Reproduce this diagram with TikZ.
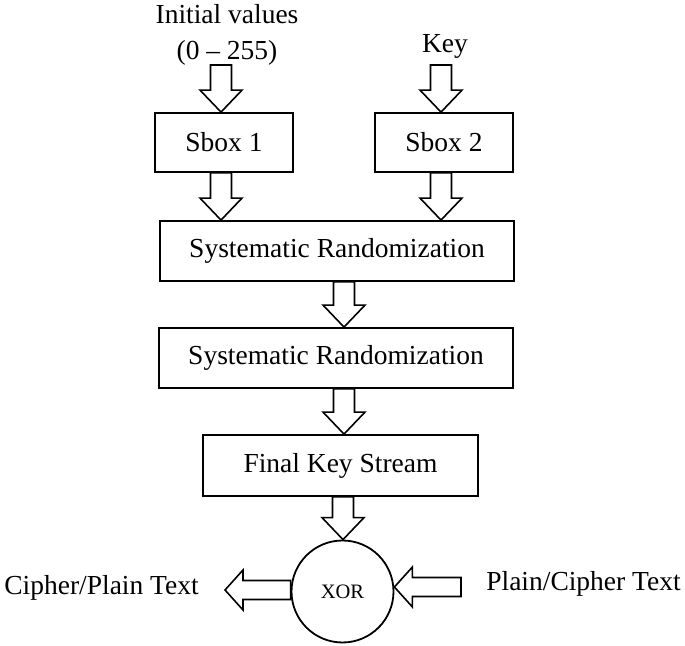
\documentclass[tikz,border=0pt]{standalone}
\usepackage{fontspec}
\setmainfont{Liberation Serif}
\usetikzlibrary{calc}
\tikzset{
  boxnode/.style={draw, line width=1.8pt, inner sep=0pt, fill=white},
  blk/.style={draw, line width=1.6pt, fill=white, line join=miter},
  lbl/.style={inner sep=0pt, font=\fontsize{27.5}{36}\selectfont},
}
\newcommand\blkdown[3]{%
  \draw[blk] let \p1=(#1), \p2=(#2) in
    (#3-10.5,\y1) -- (#3-10.5,\y2+22) -- (#3-21,\y2+22) -- (#3,\y2) --
    (#3+21,\y2+22) -- (#3+10.5,\y2+22) -- (#3+10.5,\y1) -- cycle;}
\newcommand\blkhoriz[4]{% #1 start, #2 tip, #3 y, #4 direction (+1 tip right of start? -1)
  \draw[blk] let \p1=(#1), \p2=(#2) in
    (\x1,#3-9.5) -- (\x2+#4*18,#3-9.5) -- (\x2+#4*18,#3-20) -- (\x2,#3) --
    (\x2+#4*18,#3+20) -- (\x2+#4*18,#3+9.5) -- (\x1,#3+9.5) -- cycle;}
\begin{document}
\begin{tikzpicture}[x=1pt,y=1pt]
\useasboundingbox (0,0) rectangle (685,645);
% labels
\node[lbl, align=center, anchor=north] (iv) at (227,641) {Initial values\\(0 -- 255)};
\node[lbl, anchor=base] (key) at (445,592) {Key};
% boxes
\node[boxnode, lbl, minimum width=138pt, minimum height=59pt] (s1) at (224,502.5) {Sbox 1};
\node[boxnode, lbl, minimum width=138pt, minimum height=59pt] (s2) at (444,502.5) {Sbox 2};
\node[boxnode, lbl, minimum width=354pt, minimum height=60pt] (sr1) at (337,394) {Systematic Randomization};
\node[boxnode, lbl, minimum width=354pt, minimum height=60pt] (sr2) at (336,287) {Systematic Randomization};
\node[boxnode, lbl, minimum width=275pt, minimum height=61pt] (fks) at (340.5,179.5) {Final Key Stream};
\node[draw, circle, line width=1.8pt, minimum size=102pt, inner sep=0pt,
      font=\fontsize{20.5}{24}\selectfont] (xor) at (342.5,53.5) {XOR};
\node[lbl, anchor=base] (outt) at (101.5,50) {Cipher/Plain Text};
\node[lbl, anchor=base] (int) at (583.5,54) {Plain/Cipher Text};
% free ends
\coordinate (a1) at (221,580);
\coordinate (a2) at (441,580);
\coordinate (outtip) at (225,55);
\coordinate (inend) at (461,58);
% block arrows
\blkdown{a1}{s1.north}{221}
\blkdown{a2}{s2.north}{441}
\blkdown{s1.south}{sr1.north}{221}
\blkdown{s2.south}{sr1.north}{441}
\blkdown{sr1.south}{sr2.north}{344}
\blkdown{sr2.south}{fks.north}{344}
\blkdown{fks.south}{xor.north}{343}
\blkhoriz{xor.west}{outtip}{55}{1}
\blkhoriz{inend}{xor.east}{58}{1}
\end{tikzpicture}
\end{document}
